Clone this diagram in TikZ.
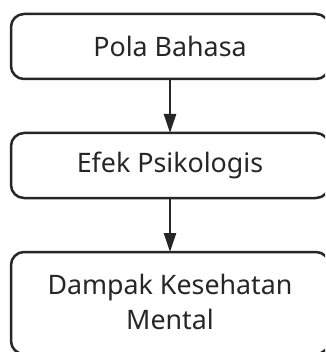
\documentclass[tikz,border=0pt]{standalone}
\usepackage{fontspec}
\setmainfont{Noto Sans}
\usetikzlibrary{arrows.meta}
\begin{document}
\begin{tikzpicture}[x=1pt,y=-1pt,
  box/.style={draw=black!85, line width=2.5pt, rounded corners=13pt},
  lbl/.style={font=\fontsize{26.8}{35}\selectfont, text=black!85, align=center},
  arr/.style={draw=black!85, line width=2.5pt, -{Triangle[length=19pt,width=12pt]}}]
\useasboundingbox (0,0) rectangle (325,352);
\clip (0,0) rectangle (325,352);
\draw[box] (11,14) rectangle (329,79);
\draw[box] (11,133) rectangle (329,198);
\draw[box] (11,252) rectangle (329,354);
\node[lbl] (a) at (170,46.5) {Pola Bahasa};
\node[lbl] (b) at (170,165.5) {Efek Psikologis};
\node[lbl] (c) at (170,302) {Dampak Kesehatan\\Mental};
\coordinate (a1) at (170,79);
\coordinate (b0) at (170,133);
\coordinate (b1) at (170,198);
\coordinate (c0) at (170,252);
\draw[arr] (a1) -- (b0);
\draw[arr] (b1) -- (c0);
\end{tikzpicture}
\end{document}
